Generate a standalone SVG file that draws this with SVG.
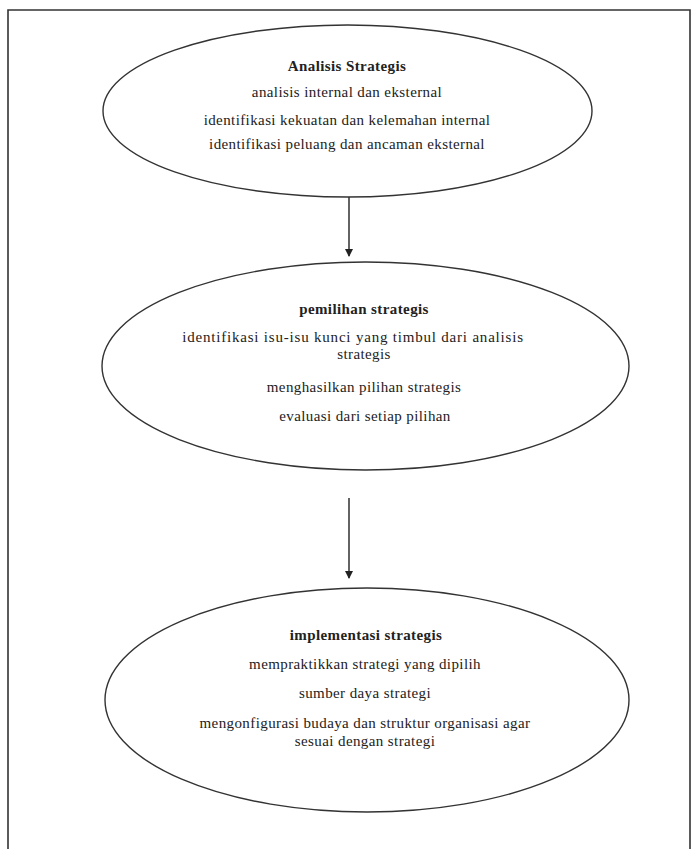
<svg xmlns="http://www.w3.org/2000/svg" width="692" height="849" viewBox="0 0 692 849">
  <style>
    .frame { fill: none; stroke: #333; stroke-width: 1.6; }
    .stage { fill: #fff; stroke: #333; stroke-width: 1.4; }
    .link { fill: none; stroke: #222; stroke-width: 1.4; }
    text { font-family: "Liberation Serif", "Times New Roman", serif; font-size: 15px; fill: #222; text-anchor: middle; letter-spacing: 0.4px; }
    .title { font-weight: bold; }
    .wide { letter-spacing: 0.8px; }
  </style>
  <defs>
    <marker id="arrowhead" markerWidth="8" markerHeight="10" refX="7" refY="5" orient="auto" markerUnits="userSpaceOnUse">
      <path d="M0,1 L8,5 L0,9 Z" fill="#222"/>
    </marker>
  </defs>

  <rect width="692" height="849" fill="#fff"/>
  <!-- outer frame -->
  <path class="frame" d="M8,849 V10 H690 V849"/>

  <g id="connectors">
    <line class="link" x1="349" y1="183" x2="349" y2="256" marker-end="url(#arrowhead)"/>
    <line class="link" x1="349" y1="498" x2="349" y2="578" marker-end="url(#arrowhead)"/>
  </g>

  <g id="analisis-strategis">
    <ellipse class="stage" cx="347.5" cy="111" rx="244.5" ry="86"/>
    <text class="title" x="347" y="71">Analisis Strategis</text>
    <text x="347" y="97">analisis internal dan eksternal</text>
    <text x="347" y="125">identifikasi kekuatan dan kelemahan internal</text>
    <text x="347" y="149">identifikasi peluang dan ancaman eksternal</text>
  </g>

  <g id="pemilihan-strategis">
    <ellipse class="stage" cx="365.5" cy="366" rx="263.5" ry="104"/>
    <text class="title" x="364" y="314">pemilihan strategis</text>
    <text class="wide" x="353" y="342">identifikasi isu-isu kunci yang timbul dari analisis</text>
    <text x="364" y="359">strategis</text>
    <text x="364" y="392">menghasilkan pilihan strategis</text>
    <text x="365" y="421">evaluasi dari setiap pilihan</text>
  </g>

  <g id="implementasi-strategis">
    <ellipse class="stage" cx="367" cy="700" rx="262" ry="112"/>
    <text class="title" x="366" y="640">implementasi strategis</text>
    <text x="365" y="669">mempraktikkan strategi yang dipilih</text>
    <text x="365" y="698">sumber daya strategi</text>
    <text x="365" y="728">mengonfigurasi budaya dan struktur organisasi agar</text>
    <text x="365" y="746">sesuai dengan strategi</text>
  </g>
</svg>
